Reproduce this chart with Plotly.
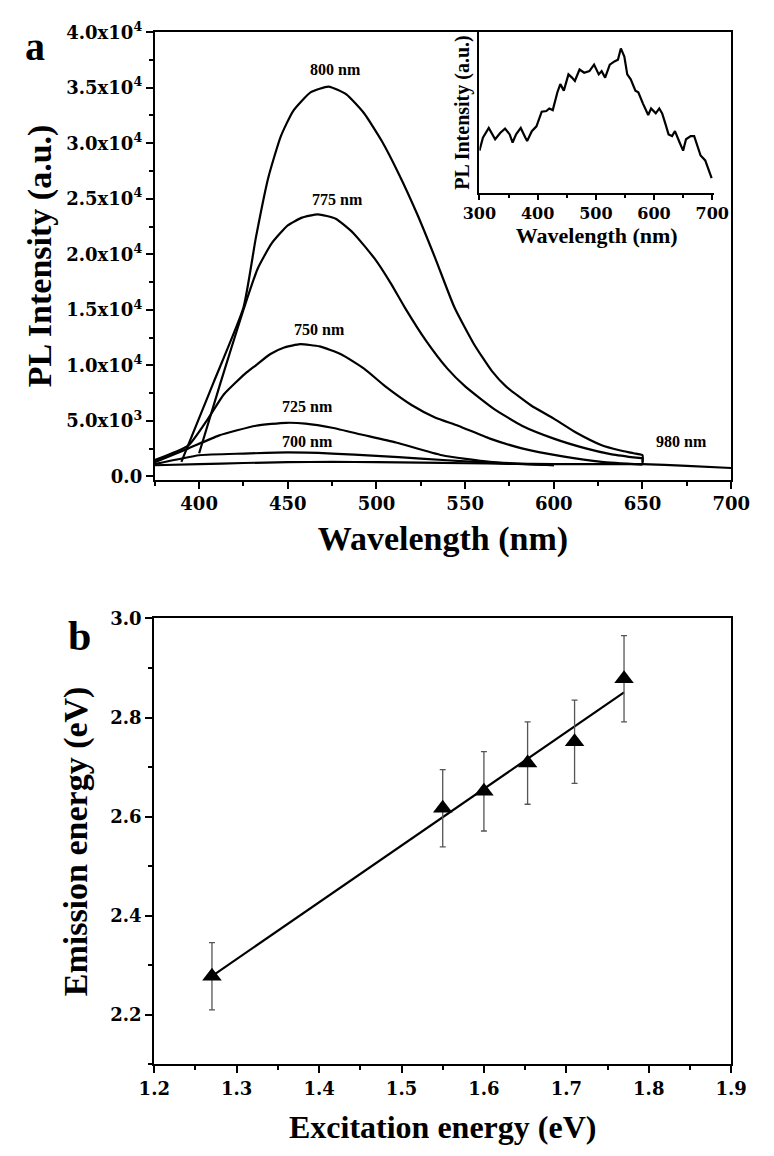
import numpy as np
import plotly.graph_objects as go

# ---------------- Panel a: PL spectra ----------------
wl800 = [390, 408, 425, 432, 439, 446, 453, 463, 473, 483, 493, 503, 513, 523, 533, 544, 555, 565, 573, 587, 600, 613, 627, 637, 645, 650, 650]
i800 = [1300, 8400, 15200, 21500, 26900, 30600, 32900, 34600, 35100, 34400, 32700, 30200, 27100, 23600, 19700, 15200, 11900, 9500, 8100, 6400, 5200, 3900, 2800, 2350, 2080, 1900, 1300]

wl775 = [400, 412, 425, 433, 441, 450, 458, 467, 477, 487, 499, 508, 516, 528, 540, 550, 566, 582, 600, 618, 632, 645, 650, 650]
i775 = [2080, 8400, 15000, 18700, 21000, 22600, 23300, 23600, 23200, 21900, 19600, 17400, 15200, 12200, 9700, 8100, 6100, 4560, 3400, 2520, 2000, 1700, 1600, 1200]

wl750 = [375, 394, 405, 414, 426, 432, 440, 448, 457, 468, 480, 493, 505, 520, 533, 546, 564, 582, 605, 627, 650]
i750 = [1460, 2790, 5180, 7390, 9250, 10000, 11000, 11600, 11900, 11700, 11000, 9700, 8100, 6400, 5300, 4560, 3400, 2520, 1800, 1300, 1050]

wl725 = [375, 394, 411, 432, 449, 460, 475, 492, 511, 537, 564, 600]
i725 = [1280, 2520, 3670, 4560, 4820, 4750, 4380, 3750, 3050, 1900, 1300, 1000]

wl700 = [375, 400, 425, 450, 475, 500, 525, 550, 575, 600]
i700 = [1100, 1900, 2050, 2150, 2050, 1850, 1600, 1350, 1150, 1000]

wl980 = [375, 400, 425, 450, 475, 500, 525, 550, 575, 600, 625, 650, 675, 700]
i980 = [1000, 1100, 1200, 1280, 1300, 1280, 1230, 1180, 1130, 1100, 1100, 1100, 950, 750]

curve_labels = ["800 nm", "775 nm", "750 nm", "725 nm", "700 nm", "980 nm"]
label_x = [477, 478, 468, 461, 461, 672]
label_y = [36600, 24900, 13230, 6330, 3140, 3140]

yticks_a = [0, 5000, 10000, 15000, 20000, 25000, 30000, 35000, 40000]
yticktext_a = ["0.0", "5.0x10<sup>3</sup>", "1.0x10<sup>4</sup>", "1.5x10<sup>4</sup>",
               "2.0x10<sup>4</sup>", "2.5x10<sup>4</sup>", "3.0x10<sup>4</sup>",
               "3.5x10<sup>4</sup>", "4.0x10<sup>4</sup>"]
xticks_a = [400, 450, 500, 550, 600, 650, 700]

# ---------------- Inset ----------------
inset_wl = [300, 306, 316, 327, 336, 344, 352, 357, 363, 371, 379, 382, 390, 398, 407, 415, 420, 426,
            434, 439, 445, 453, 459, 464, 472, 480, 489, 497, 505, 510, 516, 524, 532, 538, 543, 549,
            554, 560, 568, 573, 581, 590, 595, 603, 609, 614, 620, 625, 631, 636, 644, 650, 655, 663,
            669, 674, 680, 688, 693, 699]
inset_int = [13.0, 17.0, 20.0, 16.5, 18.5, 19.8, 18.0, 15.5, 18.0, 20.0, 17.0, 16.0, 19.0, 20.5, 25.0,
             25.2, 26.0, 25.5, 31.0, 33.5, 31.5, 36.5, 35.5, 34.5, 38.0, 37.0, 37.5, 39.5, 36.5, 37.5,
             35.5, 39.5, 40.5, 41.0, 44.5, 42.0, 36.5, 35.0, 31.5, 31.0, 27.5, 24.0, 26.0, 24.5, 26.0,
             24.5, 21.0, 18.0, 17.5, 19.0, 15.5, 13.0, 16.5, 17.5, 17.5, 15.0, 11.5, 10.0, 7.5, 4.5]
inset_xticks = [300, 400, 500, 600, 700]

# ---------------- Panel b ----------------
exc_energy = [1.27, 1.55, 1.60, 1.653, 1.71, 1.77]
em_energy = [2.278, 2.617, 2.651, 2.708, 2.751, 2.878]
em_err = [0.068, 0.078, 0.080, 0.083, 0.084, 0.087]

FONT = "Liberation Serif"
TICKFONT = "DejaVu Serif"
BLACK = "#000000"

fig = go.Figure()

series = [(wl800, i800), (wl775, i775), (wl750, i750), (wl725, i725), (wl700, i700), (wl980, i980)]
for (xs, ys), name in zip(series, curve_labels):
    fig.add_trace(go.Scatter(x=xs, y=ys, mode="lines", name=name,
                             line=dict(color=BLACK, width=2.2, shape="spline", smoothing=0.5),
                             xaxis="x", yaxis="y", showlegend=False))

fig.add_trace(go.Scatter(x=inset_wl, y=inset_int, mode="lines",
                         line=dict(color=BLACK, width=2.2),
                         xaxis="x3", yaxis="y3", showlegend=False))

coef = np.polyfit(exc_energy, em_energy, 1)
fit_x = np.array([exc_energy[0], exc_energy[-1]])
fit_y = np.polyval(coef, fit_x)
fig.add_trace(go.Scatter(x=fit_x, y=fit_y, mode="lines",
                         line=dict(color=BLACK, width=2.2),
                         xaxis="x2", yaxis="y2", showlegend=False))
fig.add_trace(go.Scatter(x=exc_energy, y=em_energy, mode="markers",
                         marker=dict(symbol="triangle-up", size=17, color=BLACK),
                         error_y=dict(type="data", array=em_err, color="#555555",
                                      thickness=1.3, width=3),
                         xaxis="x2", yaxis="y2", showlegend=False))

tick_font = dict(family=TICKFONT, size=18, color=BLACK, weight="bold")
title_font = dict(family=FONT, size=34, color=BLACK, weight="bold")

common_axis = dict(showline=True, linecolor=BLACK, linewidth=2, mirror=True,
                   ticks="outside", ticklen=7, tickwidth=2, tickcolor=BLACK,
                   showgrid=False, zeroline=False, tickfont=tick_font)

fig.update_layout(
    width=774, height=1156,
    margin=dict(l=0, r=0, t=0, b=0),
    paper_bgcolor="white", plot_bgcolor="white",
    xaxis=dict(domain=[0.1867, 0.9677], anchor="y", range=[375, 700],
               tickvals=xticks_a,
               minor=dict(dtick=25, tick0=375, ticks="outside", ticklen=4, tickcolor=BLACK, tickwidth=2),
               title=dict(text="Wavelength (nm)", font=title_font, standoff=13),
               **common_axis),
    yaxis=dict(domain=[0.5892, 0.9831], anchor="x", range=[-300, 40000],
               tickvals=yticks_a, ticktext=yticktext_a,
               minor=dict(dtick=2500, tick0=0, ticks="outside", ticklen=4, tickcolor=BLACK, tickwidth=2),
               title=dict(text="PL Intensity (a.u.)", font=title_font, standoff=4),
               **common_axis),
    xaxis2=dict(domain=[0.1860, 0.9677], anchor="y2", range=[1.2, 1.9],
                tickvals=[1.2, 1.3, 1.4, 1.5, 1.6, 1.7, 1.8, 1.9], tickformat=".1f",
                minor=dict(dtick=0.05, tick0=1.2, ticks="outside", ticklen=4, tickcolor=BLACK, tickwidth=2),
                title=dict(text="Excitation energy (eV)", font=dict(family=FONT, size=32, color=BLACK, weight="bold"), standoff=18),
                **common_axis),
    yaxis2=dict(domain=[0.0744, 0.4671], anchor="x2", range=[2.1, 3.0],
                tickvals=[2.2, 2.4, 2.6, 2.8, 3.0], tickformat=".1f",
                minor=dict(dtick=0.1, tick0=2.1, ticks="outside", ticklen=4, tickcolor=BLACK, tickwidth=2),
                title=dict(text="Emission energy (eV)", font=title_font, standoff=12),
                **common_axis),
    xaxis3=dict(domain=[0.6266, 0.9444], anchor="y3", range=[300, 703],
                showline=True, linecolor=BLACK, linewidth=2, mirror=False,
                ticks="outside", ticklen=5, tickwidth=2, tickcolor=BLACK,
                tickvals=inset_xticks,
                minor=dict(dtick=50, tick0=300, ticks="outside", ticklen=3, tickcolor=BLACK, tickwidth=2),
                showgrid=False, zeroline=False,
                tickfont=dict(family=TICKFONT, size=16, color=BLACK, weight="bold"),
                title=dict(text="Wavelength (nm)", standoff=0,
                           font=dict(family=FONT, size=22, color=BLACK, weight="bold"))),
    yaxis3=dict(domain=[0.8417, 0.9831], anchor="x3", range=[0, 49.5],
                showline=True, linecolor=BLACK, linewidth=2, mirror=False,
                ticks="", showticklabels=False, showgrid=False, zeroline=False,
                title=dict(text="PL Intensity (a.u.)", standoff=2,
                           font=dict(family=FONT, size=20, color=BLACK, weight="bold"))),
)

annotations = []
for txt, ax_, ay_ in zip(curve_labels, label_x, label_y):
    annotations.append(dict(x=ax_, y=ay_, xref="x", yref="y", text=txt, showarrow=False,
                            font=dict(family=FONT, size=16, color=BLACK, weight="bold")))
annotations.append(dict(x=0.008, y=0.9925, xref="paper", yref="paper", text="a", showarrow=False,
                        xanchor="left", yanchor="top",
                        font=dict(family=FONT, size=40, color=BLACK, weight="bold")))
annotations.append(dict(x=0.066, y=0.474, xref="paper", yref="paper", text="b", showarrow=False,
                        xanchor="left", yanchor="top",
                        font=dict(family=FONT, size=42, color=BLACK, weight="bold")))
fig.update_layout(annotations=annotations)

fig.write_html("out.html", config={"displayModeBar": False},
               post_script="document.body.style.margin='0';document.body.style.overflow='hidden';")
